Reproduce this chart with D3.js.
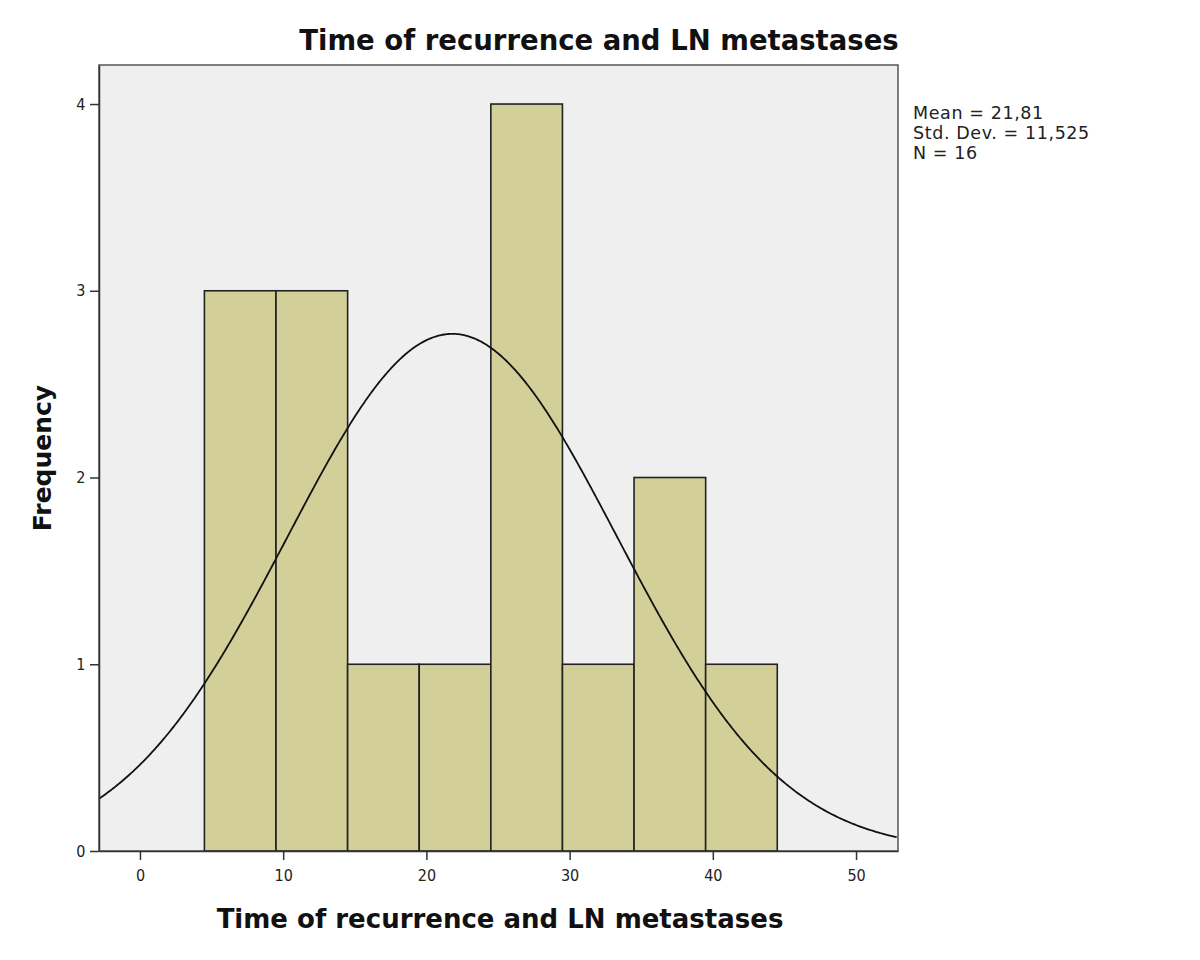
<!DOCTYPE html>
<html><head><meta charset="utf-8">
<script src="https://cdn.jsdelivr.net/npm/d3@7"></script>
<style>body{margin:0;background:#fff}</style>
</head><body>
<svg id="c" width="1200" height="960"></svg>
<script>
const binStarts = [4.5, 9.5, 14.5, 19.5, 24.5, 29.5, 34.5, 39.5];
const binWidth = 5;
const counts = [3, 3, 1, 1, 4, 1, 2, 1];
const xTicks = [0, 10, 20, 30, 40, 50];
const yTicks = [0, 1, 2, 3, 4];
const mean = 21.81, sd = 11.525, n = 16;
const statLines = ["Mean = 21,81", "Std. Dev. = 11,525", "N = 16"];

const svg = d3.select("#c");
const L = 99, R = 898, T = 65, B = 851;
const x = d3.scaleLinear().domain([-2.86, 52.93]).range([L, R]);
const y = d3.scaleLinear().domain([0, 4.209]).range([B, T]);

svg.append("rect").attr("x", L).attr("y", T).attr("width", R - L).attr("height", B - T)
  .attr("fill", "#efefef").attr("stroke", "#555").attr("stroke-width", 1.5);

svg.selectAll("rect.bar").data(binStarts).enter().append("rect").attr("class", "bar")
  .attr("x", d => x(d)).attr("width", d => x(d + binWidth) - x(d))
  .attr("y", (d, i) => y(counts[i])).attr("height", (d, i) => y(0) - y(counts[i]))
  .attr("fill", "#d3cf99").attr("stroke", "#222").attr("stroke-width", 1.6);

const pdf = v => n * binWidth * Math.exp(-0.5 * ((v - mean) / sd) ** 2) / (sd * Math.sqrt(2 * Math.PI));
const pts = d3.range(-2.86, 52.93 + 0.001, 0.1).map(v => [v, pdf(v)]);
svg.append("path").datum(pts)
  .attr("d", d3.line().x(d => x(d[0])).y(d => y(d[1])))
  .attr("fill", "none").attr("stroke", "#111").attr("stroke-width", 1.8);

const xAxis = svg.append("g").attr("transform", `translate(0,${B})`)
  .call(d3.axisBottom(x).tickValues(xTicks).tickFormat(d3.format("d")).tickSize(9).tickSizeOuter(0));
const yAxis = svg.append("g").attr("transform", `translate(${L},0)`)
  .call(d3.axisLeft(y).tickValues(yTicks).tickFormat(d3.format("d")).tickSize(9).tickSizeOuter(0));
[xAxis, yAxis].forEach(g => {
  g.select(".domain").attr("stroke", "#333").attr("stroke-width", 1.5);
  g.selectAll(".tick line").attr("stroke", "#333").attr("stroke-width", 1.5);
  g.selectAll("text").attr("font-family", "'Liberation Sans Narrow','DejaVu Sans Condensed',sans-serif")
    .attr("font-size", 16).attr("fill", "#222");
});
xAxis.selectAll("text").attr("dy", "1.15em");
yAxis.selectAll("text").attr("dx", "-0.1em");

svg.append("text").attr("x", 599).attr("y", 50).attr("text-anchor", "middle")
  .attr("font-family", "'DejaVu Sans',sans-serif").attr("font-weight", "bold")
  .attr("font-size", 27.5).attr("fill", "#111").text("Time of recurrence and LN metastases");
svg.append("text").attr("x", 500).attr("y", 928).attr("text-anchor", "middle")
  .attr("font-family", "'DejaVu Sans',sans-serif").attr("font-weight", "bold")
  .attr("font-size", 26).attr("fill", "#111").text("Time of recurrence and LN metastases");
svg.append("text").attr("transform", "translate(51,458) rotate(-90)").attr("text-anchor", "middle")
  .attr("font-family", "'DejaVu Sans',sans-serif").attr("font-weight", "bold")
  .attr("font-size", 25).attr("fill", "#111").text("Frequency");

svg.append("g").selectAll("text").data(statLines).enter().append("text")
  .attr("x", 913).attr("y", (d, i) => 119 + i * 20)
  .attr("font-family", "'DejaVu Sans',sans-serif").attr("font-size", 17.5)
  .attr("letter-spacing", 0.6).attr("fill", "#222")
  .text(d => d);
</script>
</body></html>
